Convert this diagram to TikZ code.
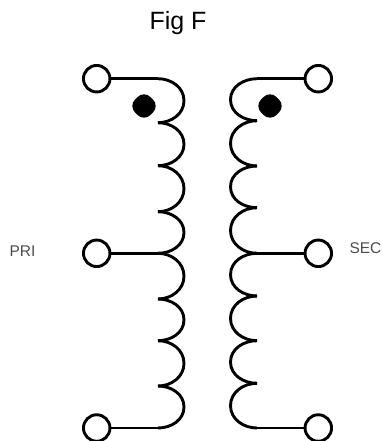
\documentclass[tikz,border=0pt]{standalone}
\usepackage{fontspec}
\setmainfont{Liberation Sans}
\usetikzlibrary{calc,shapes.geometric}
\newcommand\DrawLobe[3]{
\coordinate (lobemid) at ( $ (#1c\the\numexpr#2-1\relax)!0.5!(#1c#2) + (#3,0) $ );
\ifx#1l\relax
  \draw[coil] (#1c\the\numexpr#2-1\relax) to[out=0,in=90] (lobemid) to[out=-90,in=0] (#1c#2);
\else
  \draw[coil] (#1c\the\numexpr#2-1\relax) to[out=180,in=90] (lobemid) to[out=-90,in=180] (#1c#2);
\fi
}
\tikzset{
  coil/.style={line width=2.9pt},
  terminal/.style={circle,draw,line width=2.9pt,fill=white,minimum size=26.5pt,inner sep=0pt},
  polarity/.style={diamond,fill=black,minimum size=31pt,inner sep=0pt,rounded corners=9pt},
  sidelabel/.style={text=black!70,font=\fontsize{15.5}{18}\selectfont},
}
\begin{document}
\begin{tikzpicture}[x=1pt,y=1pt]
	\useasboundingbox (0,0) rectangle (382,-441);

	% title and side labels
	\node[font=\fontsize{25}{30}\selectfont] (title) at (178,-23) {Fig F};
	\node[sidelabel] (pri) at (22.5,-251) {PRI};
	\node[sidelabel] (sec) at (365.5,-248) {SEC};

	% coordinates for the two coils
	\foreach \Num/\Left/\Right in {0/78.7/78.7,1/122.7/120.7,2/165.7/166,3/211.7/207.7,
	  4/253.3/253.3,5/299/296,6/340.7/340.7,7/386/383.3,8/428/428}{
	  \coordinate (lc\Num) at (158,-\Left);
	  \coordinate (rc\Num) at (257,-\Right);
	}

	% the lobes
	\foreach \Num in {1,...,8}{
	  \DrawLobe{l}{\Num}{26}
	  \DrawLobe{r}{\Num}{-26.5}
	}

	% terminals and their leads
	\foreach \Name/\Num/\Y in {a/0/78.7,b/4/253.3,c/8/428}{
	  \draw[coil] (96.7,-\Y) node[terminal] (pri\Name) {} (pri\Name) -- (lc\Num);
	  \draw[coil] (318.3,-\Y) node[terminal] (sec\Name) {} (sec\Name) -- (rc\Num);
	}

	% polarity dots
	\node[polarity] (dotl) at (144,-106) {};
	\node[polarity] (dotr) at (270,-106) {};
\end{tikzpicture}
\end{document}
